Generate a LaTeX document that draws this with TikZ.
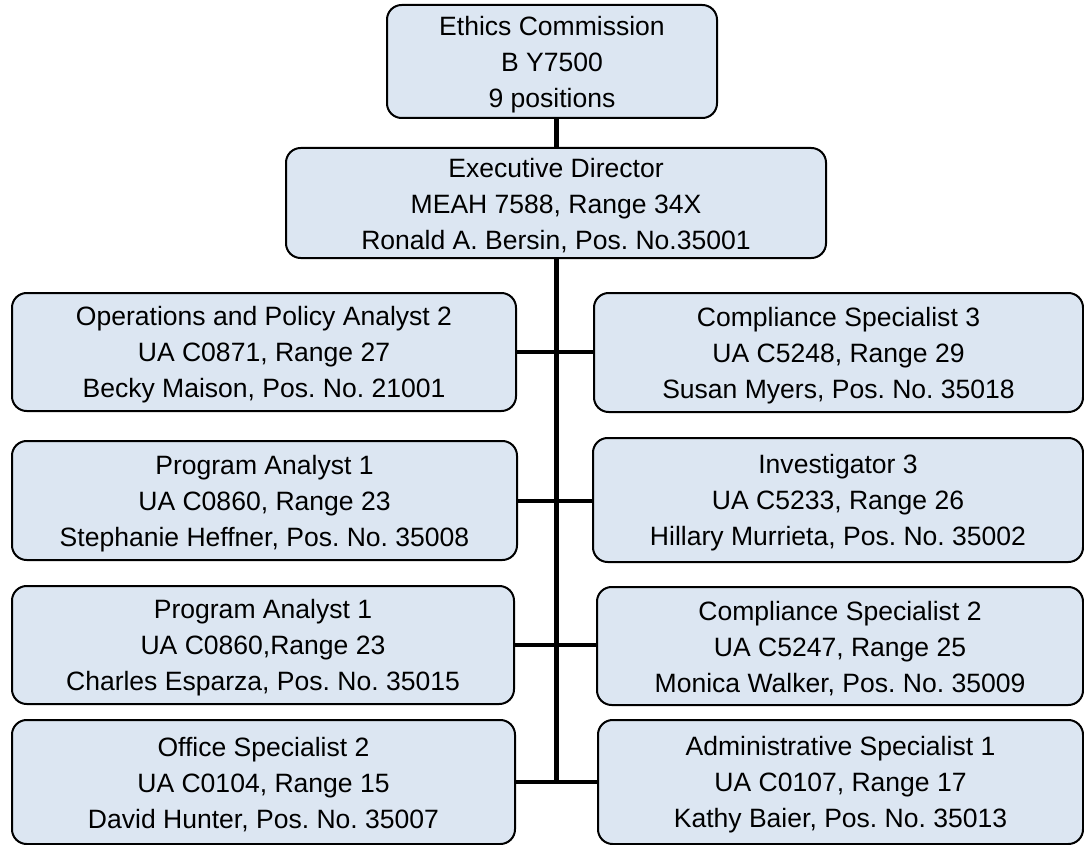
\documentclass[tikz,border=0pt]{standalone}
\usepackage{fontspec}
\setmainfont{Liberation Sans}
\definecolor{boxfill}{RGB}{220,230,242}
\newcommand\tstrut{\rule{0pt}{19pt}}
\begin{document}
\frenchspacing
\begin{tikzpicture}[x=0.75pt,y=-0.75pt,
  box/.style={draw=black, fill=boxfill, line width=1.5pt, rounded corners=11pt,
    align=center, inner sep=0pt, font=\fontsize{19.9}{27}\selectfont},
  sz/.style 2 args={minimum width=#1*0.75pt, minimum height=#2*0.75pt},
  vconn/.style={draw=black, line width=3.75pt},
  hconn/.style={draw=black, line width=3pt}]
\useasboundingbox (0,0) rectangle (1084,845);
\fill[white] (0,0) rectangle (1084,845);

\node[box, sz={330}{113}] (top) at (552,61.5) {\tstrut Ethics Commission\\B Y7500\\9 positions};
\node[box, sz={540}{110}] (exec) at (556,203) {\tstrut Executive Director\\MEAH 7588, Range 34X\\Ronald A. Bersin, Pos. No.35001};

\node[box, sz={504}{118}] (L1) at (264,352) {\tstrut Operations and Policy Analyst 2\\UA C0871, Range 27\\Becky Maison, Pos. No. 21001};
\node[box, sz={489}{119}] (R1) at (838.5,352.5) {\tstrut Compliance Specialist 3\\UA C5248, Range 29\\Susan Myers, Pos. No. 35018};

\node[box, sz={505}{119}] (L2) at (264.5,500.5) {\tstrut Program Analyst 1\\UA C0860, Range 23\\Stephanie Heffner, Pos. No. 35008};
\node[box, sz={490}{124}] (R2) at (838,500) {\tstrut Investigator 3\\UA C5233, Range 26\\Hillary Murrieta, Pos. No. 35002};

\node[box, sz={502}{118}] (L3) at (263,645) {\tstrut Program Analyst 1\\UA C0860,Range 23\\Charles Esparza, Pos. No. 35015};
\node[box, sz={486}{118}] (R3) at (840,646) {\tstrut Compliance Specialist 2\\UA C5247, Range 25\\Monica Walker, Pos. No. 35009};

\node[box, sz={503}{124}] (L4) at (263.5,782) {\tstrut Office Specialist 2\\UA C0104, Range 15\\David Hunter, Pos. No. 35007};
\node[box, sz={485}{124}] (R4) at (840.5,782) {\tstrut Administrative Specialist 1\\UA C0107, Range 17\\Kathy Baier, Pos. No. 35013};

\draw[vconn] (top.south -| exec.north) -- (exec.north);
\draw[vconn] (exec.south) -- (exec.south |- L4.east);
\draw[hconn] (L1.east) -- (R1.west |- L1.east);
\draw[hconn] (L2.east) -- (R2.west |- L2.east);
\draw[hconn] (L3.east) -- (R3.west |- L3.east);
\draw[hconn] (L4.east) -- (R4.west |- L4.east);
\end{tikzpicture}
\end{document}
